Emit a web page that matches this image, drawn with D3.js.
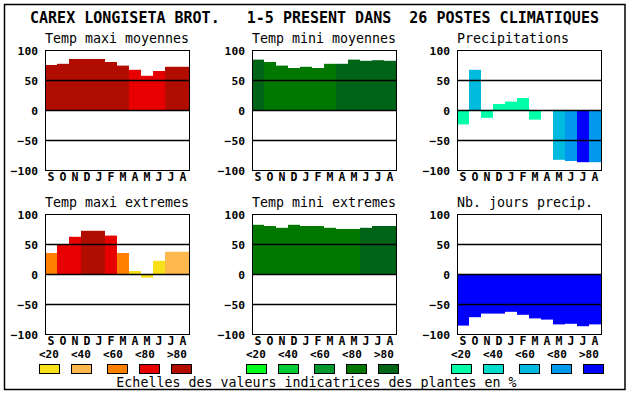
<!DOCTYPE html>
<html>
<head>
<meta charset="utf-8">
<script src="https://cdn.jsdelivr.net/npm/d3@7"></script>
<style>
  body { margin: 0; background: #fff; }
  svg text { font-family: "DejaVu Sans Mono", monospace; fill: #000; }
</style>
</head>
<body>
<svg id="chart" width="630" height="394"></svg>
<script>
// months from September to August
const months = ['S', 'O', 'N', 'D', 'J', 'F', 'M', 'A', 'M', 'J', 'J', 'A'];
const rangeLabels = ['<20', '<40', '<60', '<80', '>80'];
const yTicks = [-100, -50, 0, 50, 100];
const gridValues = [50, 0, -50];

const titleText = 'CAREX LONGISETA BROT.   1-5 PRESENT DANS  26 POSTES CLIMATIQUES';
const footText = 'Echelles des valeurs indicatrices des plantes en %';

// values (-100..100), and colour class per bar (0 = <20 ... 4 = >80)
const maxiMoyValues = [75, 77, 85, 85, 85, 80, 74, 67, 57, 65, 72, 72];
const maxiMoyClass  = [4, 4, 4, 4, 4, 4, 4, 3, 3, 3, 4, 4];
const miniMoyValues = [84, 80, 74, 70, 72, 70, 77, 77, 84, 82, 83, 82];
const miniMoyClass  = [4, 3, 3, 3, 3, 3, 3, 4, 4, 4, 4, 4];
const precipValues  = [-24, 67, -13, 10, 14, 20, -16, 0, -83, -85, -87, -87];
const precipClass   = [0, 2, 0, 0, 0, 0, 0, 0, 2, 3, 4, 3];
const maxiExtValues = [35, 50, 62, 72, 72, 64, 35, 5, -6, 22, 37, 37];
const maxiExtClass  = [2, 3, 3, 4, 4, 3, 2, 0, 0, 0, 1, 1];
const miniExtValues = [82, 80, 77, 82, 80, 80, 77, 75, 75, 77, 80, 80];
const miniExtClass  = [3, 3, 3, 3, 3, 3, 3, 3, 3, 4, 4, 4];
const joursValues   = [-86, -72, -66, -66, -63, -68, -74, -76, -84, -83, -87, -84];
const joursClass    = [4, 4, 4, 4, 4, 4, 4, 4, 4, 4, 4, 4];

const reds   = ['#f8e11a', '#ffb84d', '#ff8000', '#e80000', '#b00c00'];
const greens = ['#00ff1a', '#00cc33', '#009930', '#007800', '#006418'];
const blues  = ['#00ffaa', '#00ddcc', '#00bbdd', '#0099ee', '#0000ff'];

const colX = [45, 252, 457];
const rowY = [50, 214];
const plotW = 144, plotH = 120;
const boxOffsets = [0, 32, 68, 100, 132];

const panels = [
    {title: 'Temp maxi moyennes', values: maxiMoyValues, cls: maxiMoyClass, pal: reds,   col: 0, row: 0},
    {title: 'Temp mini moyennes', values: miniMoyValues, cls: miniMoyClass, pal: greens, col: 1, row: 0},
    {title: 'Precipitations',     values: precipValues,  cls: precipClass,  pal: blues,  col: 2, row: 0},
    {title: 'Temp maxi extremes', values: maxiExtValues, cls: maxiExtClass, pal: reds,   col: 0, row: 1},
    {title: 'Temp mini extremes', values: miniExtValues, cls: miniExtClass, pal: greens, col: 1, row: 1},
    {title: 'Nb. jours precip.',  values: joursValues,   cls: joursClass,   pal: blues,  col: 2, row: 1},
];

const svg = d3.select('#chart');

svg.append('rect')
    .attr('x', 4.5).attr('y', 4.5)
    .attr('width', 620.5).attr('height', 385)
    .attr('fill', 'none').attr('stroke', '#000').attr('stroke-width', 1.5);

svg.append('text')
    .attr('x', 314.5).attr('y', 23)
    .attr('text-anchor', 'middle')
    .attr('font-size', 15).attr('font-weight', 'bold')
    .attr('xml:space', 'preserve')
    .style('white-space', 'pre')
    .text(titleText);

panels.forEach((p) => {
    const x0 = colX[p.col];
    const y0 = rowY[p.row];
    const x = d3.scaleBand().domain(d3.range(months.length)).range([x0, x0 + plotW]);
    const y = d3.scaleLinear().domain([-100, 100]).range([y0 + plotH, y0]);
    const g = svg.append('g');

    g.append('text')
        .attr('x', x0).attr('y', y0 - 7.5)
        .attr('font-size', 13.3)
        .text(p.title);

    g.selectAll('rect.bar')
        .data(p.values)
        .join('rect')
        .attr('class', 'bar')
        .attr('x', (d, i) => x(i))
        .attr('width', x.bandwidth())
        .attr('y', (d) => y(Math.max(0, d)))
        .attr('height', (d) => Math.abs(y(d) - y(0)))
        .attr('fill', (d, i) => p.pal[p.cls[i]]);

    g.selectAll('line.grid')
        .data(gridValues)
        .join('line')
        .attr('class', 'grid')
        .attr('x1', x0).attr('x2', x0 + plotW)
        .attr('y1', (d) => Math.round(y(d)) + 0.5)
        .attr('y2', (d) => Math.round(y(d)) + 0.5)
        .attr('stroke', '#000').attr('stroke-width', 1.3);

    g.append('rect')
        .attr('x', x0 + 0.5).attr('y', y0 + 0.5)
        .attr('width', plotW).attr('height', plotH)
        .attr('fill', 'none').attr('stroke', '#000');

    const yAxis = g.append('g')
        .attr('transform', `translate(${x0},0)`)
        .call(d3.axisLeft(y).tickValues(yTicks).tickSize(0).tickPadding(7).tickFormat(d3.format('d')));
    yAxis.select('.domain').remove();
    yAxis.attr('font-family', null).attr('font-size', null);
    yAxis.selectAll('text')
        .attr('font-size', 11.3).attr('font-weight', 'bold')
        .attr('dy', '0.36em');

    const xAxis = g.append('g')
        .attr('transform', `translate(0,${y0 + plotH})`)
        .call(d3.axisBottom(x).tickSize(0).tickPadding(3).tickFormat((i) => months[i]));
    xAxis.select('.domain').remove();
    xAxis.attr('font-family', null).attr('font-size', null);
    xAxis.selectAll('text')
        .attr('font-size', 11.5).attr('font-weight', 'bold')
        .attr('dy', '0.71em');

    if (p.row === 1) {
        g.selectAll('text.range')
            .data(rangeLabels)
            .join('text')
            .attr('class', 'range')
            .attr('x', (d, i) => x0 - 6 + 32 * i)
            .attr('y', 358)
            .attr('font-size', 11).attr('font-weight', 'bold')
            .text((d) => d);

        g.selectAll('rect.key')
            .data(p.pal)
            .join('rect')
            .attr('class', 'key')
            .attr('x', (d, i) => x0 - 6 + boxOffsets[i] + 0.5)
            .attr('y', 364.5)
            .attr('width', 20).attr('height', 9)
            .attr('fill', (d) => d)
            .attr('stroke', '#000');
    }
});

svg.append('text')
    .attr('x', 316.5).attr('y', 387)
    .attr('text-anchor', 'middle')
    .attr('font-size', 13.3)
    .text(footText);
</script>
</body>
</html>
